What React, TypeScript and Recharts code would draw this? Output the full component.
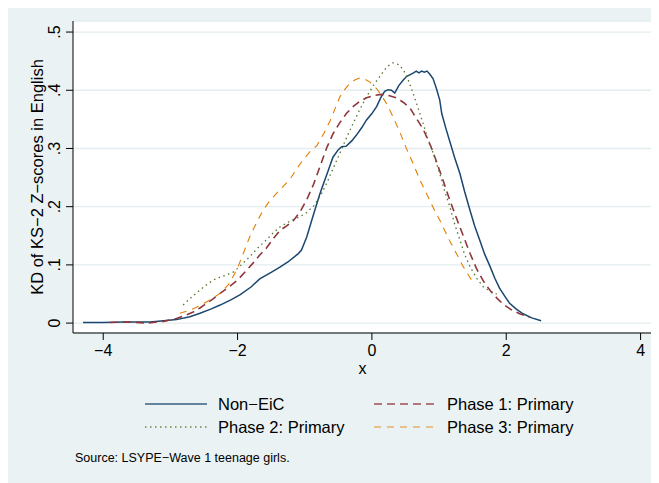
import { LineChart, Line, XAxis, YAxis, CartesianGrid, Label } from 'recharts';

// kernel density estimates: [x, density]
const nonEic = [
  [-4.3, 0.001], [-4.0, 0.001], [-3.7, 0.002], [-3.5, 0.002], [-3.3, 0.002], [-3.1, 0.004],
  [-2.91, 0.006], [-2.71, 0.011], [-2.56, 0.017], [-2.4, 0.024], [-2.26, 0.031], [-2.1, 0.04],
  [-1.96, 0.049], [-1.8, 0.062], [-1.67, 0.076], [-1.5, 0.087], [-1.37, 0.096], [-1.25, 0.105],
  [-1.1, 0.119], [-1.05, 0.125], [-0.97, 0.148], [-0.9, 0.175], [-0.85, 0.194], [-0.78, 0.22],
  [-0.72, 0.24], [-0.65, 0.262], [-0.58, 0.285], [-0.5, 0.298], [-0.45, 0.303], [-0.38, 0.304],
  [-0.3, 0.313], [-0.23, 0.323], [-0.15, 0.336], [-0.08, 0.349], [0.0, 0.36], [0.07, 0.372],
  [0.13, 0.387], [0.19, 0.398], [0.24, 0.401], [0.29, 0.4], [0.34, 0.395], [0.4, 0.408],
  [0.47, 0.418], [0.52, 0.424], [0.57, 0.427], [0.62, 0.43], [0.66, 0.433], [0.7, 0.43],
  [0.74, 0.433], [0.78, 0.431], [0.82, 0.433], [0.86, 0.428], [0.91, 0.42], [0.96, 0.403],
  [1.01, 0.383], [1.04, 0.36], [1.1, 0.335], [1.16, 0.312], [1.23, 0.285], [1.31, 0.257],
  [1.38, 0.226], [1.46, 0.194], [1.53, 0.167], [1.61, 0.141], [1.68, 0.118], [1.76, 0.097],
  [1.83, 0.077], [1.9, 0.06], [1.98, 0.046], [2.05, 0.034], [2.15, 0.024], [2.25, 0.016],
  [2.38, 0.009], [2.52, 0.004],
];

const phase1 = [
  [-3.9, 0.001], [-3.6, 0.002], [-3.35, 0.0], [-3.1, 0.003], [-2.91, 0.008], [-2.76, 0.014],
  [-2.66, 0.019], [-2.56, 0.026], [-2.46, 0.034], [-2.36, 0.042], [-2.26, 0.051], [-2.13, 0.062],
  [-2.0, 0.074], [-1.88, 0.089], [-1.77, 0.103], [-1.67, 0.117], [-1.57, 0.129], [-1.47, 0.145],
  [-1.37, 0.159], [-1.27, 0.167], [-1.17, 0.176], [-1.07, 0.191], [-0.97, 0.212], [-0.87, 0.238],
  [-0.77, 0.27], [-0.67, 0.302], [-0.58, 0.325], [-0.48, 0.344], [-0.38, 0.36], [-0.28, 0.372],
  [-0.18, 0.381], [-0.08, 0.387], [0.03, 0.391], [0.14, 0.393], [0.25, 0.391], [0.37, 0.387],
  [0.47, 0.379], [0.57, 0.369], [0.66, 0.352], [0.76, 0.334], [0.88, 0.303], [0.96, 0.278],
  [1.06, 0.245], [1.16, 0.211], [1.26, 0.18], [1.36, 0.15], [1.46, 0.12], [1.56, 0.093],
  [1.66, 0.072], [1.76, 0.056], [1.86, 0.043], [1.96, 0.032], [2.06, 0.024], [2.2, 0.016],
  [2.35, 0.01],
];

const phase2 = [
  [-2.81, 0.031], [-2.7, 0.043], [-2.56, 0.057], [-2.46, 0.066], [-2.36, 0.074], [-2.26, 0.079],
  [-2.16, 0.083], [-2.06, 0.088], [-2.0, 0.094], [-1.9, 0.105], [-1.82, 0.114], [-1.7, 0.129],
  [-1.57, 0.143], [-1.47, 0.155], [-1.37, 0.165], [-1.27, 0.172], [-1.17, 0.178], [-1.07, 0.183],
  [-0.97, 0.19], [-0.87, 0.201], [-0.77, 0.218], [-0.67, 0.241], [-0.58, 0.265], [-0.48, 0.291],
  [-0.38, 0.318], [-0.28, 0.343], [-0.18, 0.367], [-0.08, 0.389], [0.02, 0.408], [0.12, 0.424],
  [0.22, 0.44], [0.31, 0.447], [0.4, 0.444], [0.47, 0.435], [0.54, 0.418], [0.61, 0.396],
  [0.68, 0.372], [0.76, 0.344], [0.83, 0.318], [0.91, 0.293], [1.01, 0.257], [1.08, 0.228],
  [1.16, 0.2], [1.23, 0.171], [1.31, 0.143], [1.38, 0.118], [1.46, 0.097], [1.56, 0.077],
  [1.66, 0.062], [1.76, 0.055], [1.86, 0.05],
];

const phase3 = [
  [-2.86, 0.017], [-2.71, 0.022], [-2.56, 0.03], [-2.41, 0.04], [-2.26, 0.051], [-2.13, 0.067],
  [-2.01, 0.092], [-1.92, 0.118], [-1.82, 0.148], [-1.72, 0.172], [-1.62, 0.194], [-1.52, 0.21],
  [-1.42, 0.223], [-1.32, 0.235], [-1.22, 0.247], [-1.12, 0.265], [-1.02, 0.281], [-0.92, 0.295],
  [-0.82, 0.305], [-0.72, 0.325], [-0.62, 0.348], [-0.55, 0.368], [-0.48, 0.388], [-0.4, 0.402],
  [-0.33, 0.412], [-0.25, 0.418], [-0.18, 0.421], [-0.1, 0.419], [-0.03, 0.414], [0.07, 0.403],
  [0.14, 0.391], [0.22, 0.377], [0.32, 0.353], [0.42, 0.327], [0.51, 0.301], [0.61, 0.275],
  [0.71, 0.247], [0.81, 0.223], [0.91, 0.199], [1.01, 0.177], [1.08, 0.16], [1.16, 0.141],
  [1.26, 0.119], [1.36, 0.097], [1.45, 0.08], [1.53, 0.066],
];

const xTicks = [-4, -2, 0, 2, 4];
const yTicks = [0, 0.1, 0.2, 0.3, 0.4, 0.5];

const FONT = '"Liberation Sans", Arial, sans-serif';
const BG = '#eaf2f3';

const series = [
  { name: 'Non\u2212EiC', data: nonEic, color: '#1a476f', width: 1.5, dash: undefined },
  { name: 'Phase 1: Primary', data: phase1, color: '#90353b', width: 1.6, dash: '8 5' },
  { name: 'Phase 2: Primary', data: phase2, color: '#55752f', width: 1.3, dash: '1.5 3.5' },
  { name: 'Phase 3: Primary', data: phase3, color: '#e37e00', width: 1.1, dash: '7 6' },
];

const fmtX = (v: number) => (v < 0 ? '\u2212' + Math.abs(v) : String(v));
const fmtY = (v: number) => (v === 0 ? '0' : String(Number(v.toFixed(1))).replace(/^0/, ''));

const YTick = (props: any) => {
  const { x, y, payload } = props;
  return (
    <text x={x} y={y} transform={`rotate(-90 ${x} ${y})`} textAnchor="middle" fontSize={16} fill="#000" fontFamily={FONT}>
      {fmtY(payload.value)}
    </text>
  );
};

const YTitle = (props: any) => {
  const vb = props.viewBox;
  const cy = vb.y + vb.height / 2;
  return (
    <text x={35} y={cy} transform={`rotate(-90 35 ${cy})`} textAnchor="middle" fontSize={16.5} fill="#000" fontFamily={FONT}>
      KD of KS{'\u2212'}2 Z{'\u2212'}scores in English
    </text>
  );
};

const XTitle = (props: any) => {
  const vb = props.viewBox;
  return (
    <text x={vb.x + vb.width / 2} y={vb.y + 41} textAnchor="middle" fontSize={16} fill="#000" fontFamily={FONT}>
      x
    </text>
  );
};

export default function App() {
  return (
    <div style={{ position: 'relative', width: 651, height: 479, marginTop: -4, background: BG, fontFamily: FONT }}>
      <LineChart width={651} height={479} margin={{ top: 17, right: 7, left: 0, bottom: 0 }}>
        <CartesianGrid horizontal vertical={false} stroke="#e3ecef" strokeWidth={1.3} fill="#fff" />
        <XAxis
          type="number"
          dataKey="x"
          domain={[-4.45, 4.17]}
          ticks={xTicks}
          allowDataOverflow
          height={150}
          tickFormatter={fmtX}
          tickSize={7}
          tickMargin={5}
          stroke="#000"
          tick={{ fill: '#000', fontSize: 16, fontFamily: FONT }}
        >
          <Label content={<XTitle />} />
        </XAxis>
        <YAxis
          type="number"
          dataKey="y"
          domain={[-0.017, 0.519]}
          ticks={yTicks}
          allowDataOverflow
          width={65}
          tickSize={7}
          tickMargin={6}
          stroke="#000"
          tick={<YTick />}
        >
          <Label content={<YTitle />} />
        </YAxis>
        {series.map((s) => (
          <Line
            key={s.name}
            data={s.data.map(([x, y]) => ({ x, y }))}
            dataKey="y"
            type="linear"
            stroke={s.color}
            strokeWidth={s.width}
            strokeDasharray={s.dash}
            dot={false}
            activeDot={false}
            isAnimationActive={false}
          />
        ))}
      </LineChart>

      {series.map((s, i) => {
        const col = i % 2;
        const row = Math.floor(i / 2);
        return (
          <div
            key={s.name}
            style={{ position: 'absolute', left: 137 + col * 229, top: 389 + row * 23, height: 22, display: 'flex', alignItems: 'center' }}
          >
            <svg width={62} height={6} style={{ display: 'block' }}>
              <line x1={0} x2={62} y1={3} y2={3} stroke={s.color} strokeWidth={s.width} strokeDasharray={s.dash} opacity={0.85} />
            </svg>
            <span style={{ marginLeft: 11, fontSize: 16.5, color: '#000', whiteSpace: 'nowrap' }}>{s.name}</span>
          </div>
        );
      })}

      <div style={{ position: 'absolute', left: 67, top: 447, fontSize: 12.5, color: '#000', whiteSpace: 'nowrap' }}>
        Source: LSYPE{'\u2212'}Wave 1 teenage girls.
      </div>
    </div>
  );
}
